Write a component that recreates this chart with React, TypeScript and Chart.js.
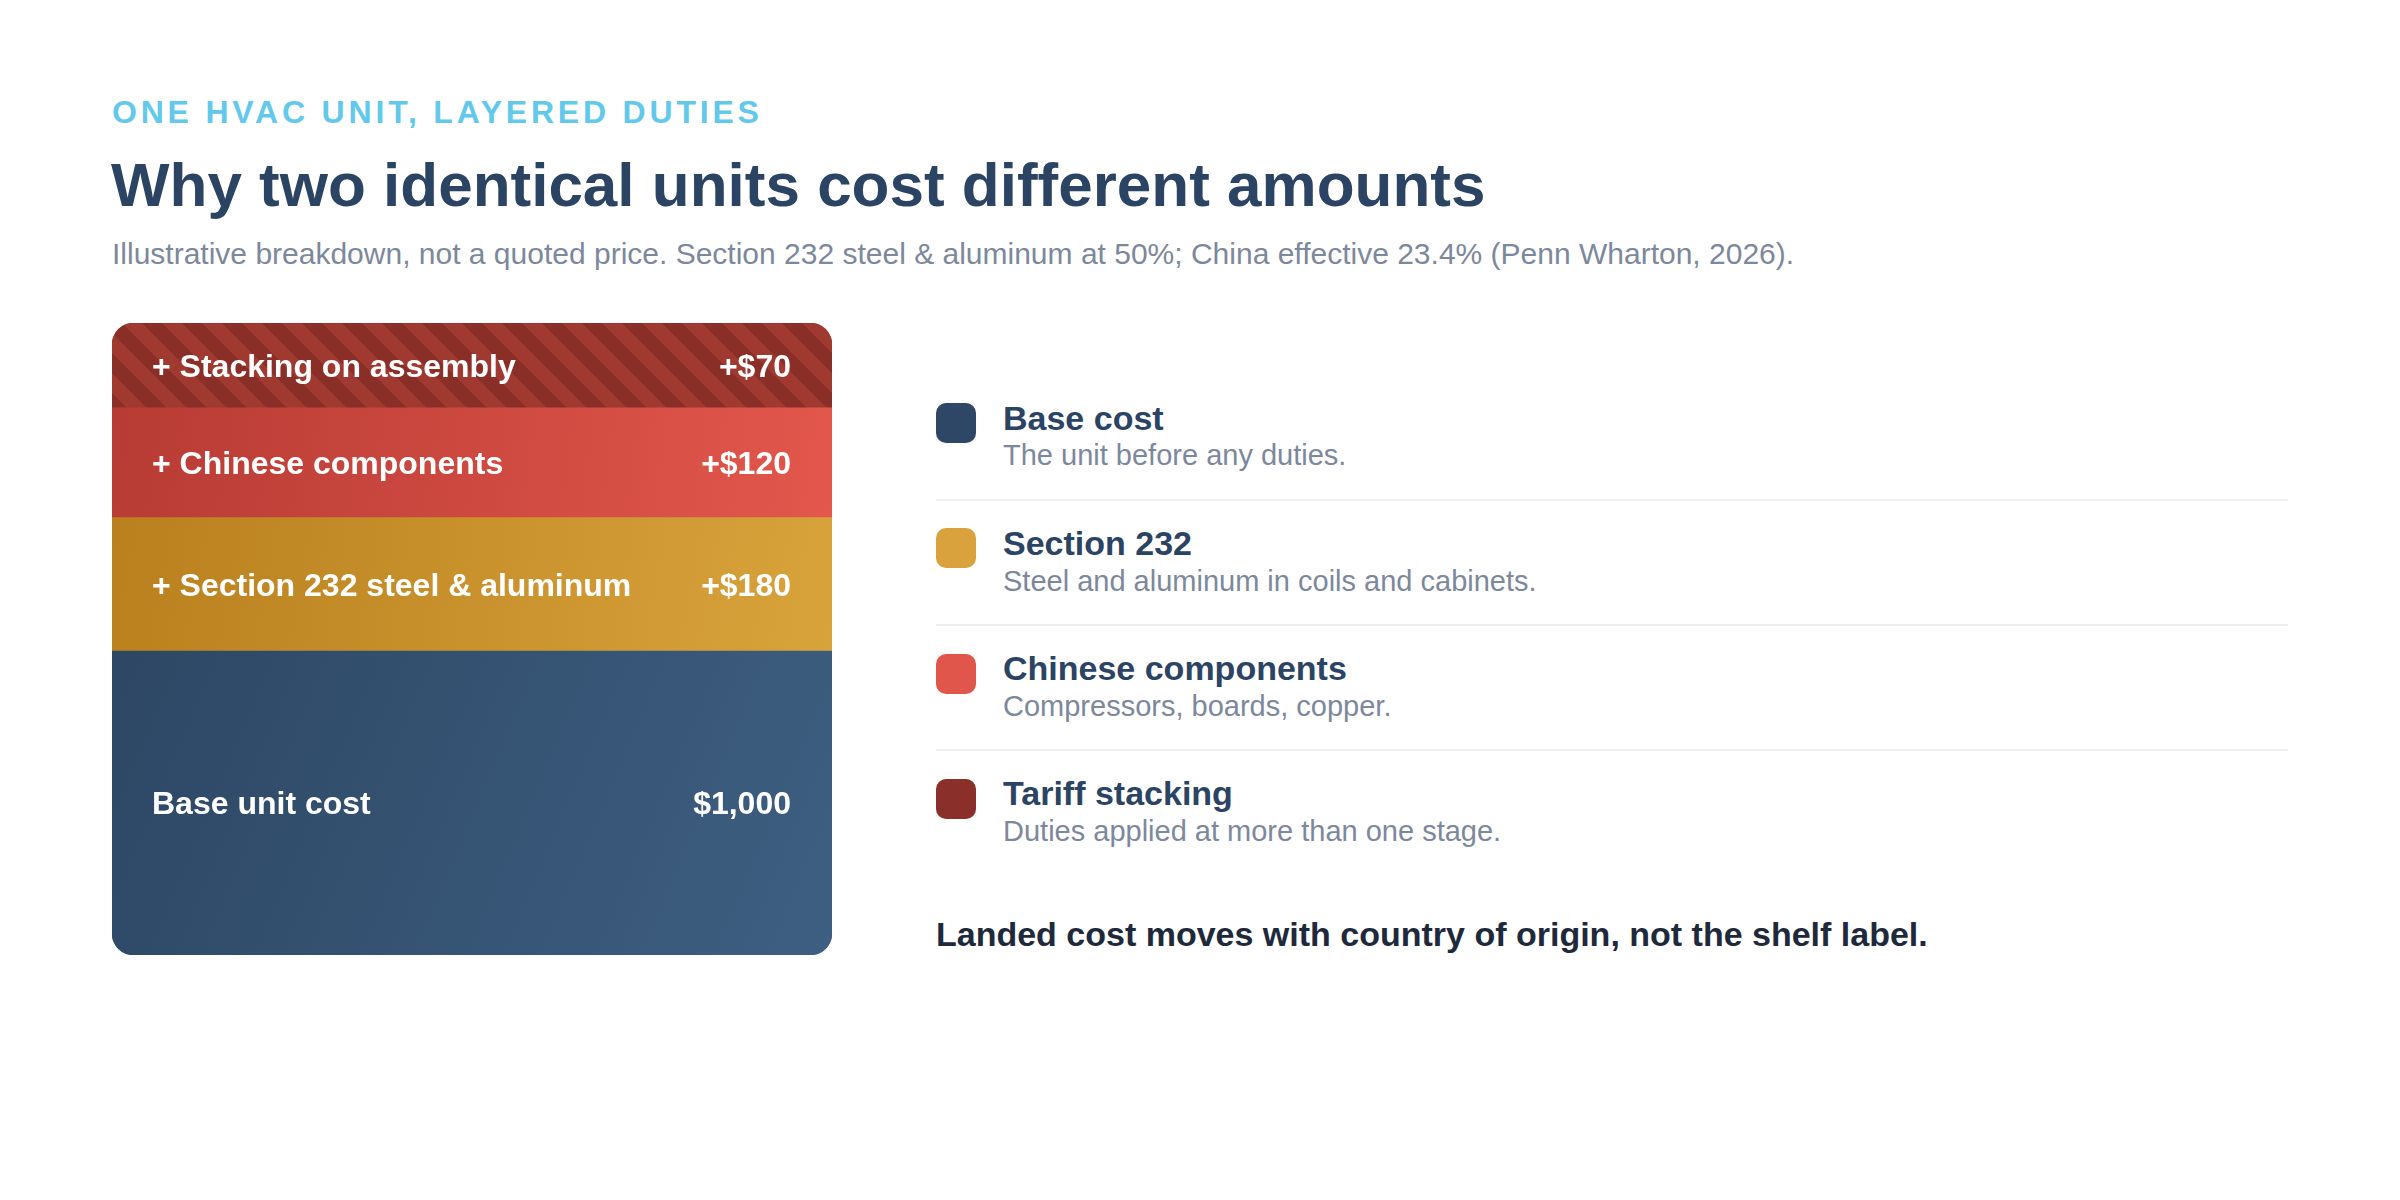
import React, { useEffect, useRef } from 'react';
import { Chart, registerables } from 'chart.js';

Chart.register(...registerables);

const FONT = "'Liberation Sans', Arial, Helvetica, sans-serif";

// ---- data (bottom of the stack first) ----
const layerNames = ['Base unit cost', '+ Section 232 steel & aluminum', '+ Chinese components', '+ Stacking on assembly'];
const layerCosts = [1000, 180, 120, 70];
const layerCostLabels = ['$1,000', '+$180', '+$120', '+$70'];

const legendTitles = ['Base cost', 'Section 232', 'Chinese components', 'Tariff stacking'];
const legendNotes = [
  'The unit before any duties.',
  'Steel and aluminum in coils and cabinets.',
  'Compressors, boards, copper.',
  'Duties applied at more than one stage.',
];

const eyebrowText = 'ONE HVAC UNIT, LAYERED DUTIES';
const titleText = 'Why two identical units cost different amounts';
const subtitleText =
  'Illustrative breakdown, not a quoted price. Section 232 steel & aluminum at 50%; China effective 23.4% (Penn Wharton, 2026).';
const footerText = 'Landed cost moves with country of origin, not the shelf label.';

// ---- scale setting: layer heights follow a power (≈ square-root) scale of each cost ----
const HEIGHT_EXPONENT = 0.48;

// ---- styles ----
const legendColors = ['#2e4766', '#d9a23c', '#e0564b', '#8a2f29'];
const layerGradients: (string[] | null)[] = [
  ['#2d4764', '#3e5f82'],
  ['#b9801d', '#d9a33c'],
  ['#b73b34', '#e3574c'],
  null,
];
const stripeLight = '#a03930';
const stripeDark = '#8a2e28';

function makeStripes(period: number): CanvasPattern | string {
  const c = document.createElement('canvas');
  c.width = period;
  c.height = period;
  const g = c.getContext('2d');
  if (!g) return stripeLight;
  g.fillStyle = stripeLight;
  g.fillRect(0, 0, period, period);
  g.strokeStyle = stripeDark;
  g.lineWidth = period / Math.SQRT2 / 2;
  g.beginPath();
  for (const k of [-2, -1, 0, 1, 2]) {
    const c0 = k * period;
    g.moveTo(c0 - period, -period);
    g.lineTo(c0 + 2 * period, 2 * period);
  }
  g.stroke();
  const pat = g.createPattern(c, 'repeat');
  return pat || stripeLight;
}

const barLabelPlugin = {
  id: 'barLabels',
  afterDatasetsDraw(chart: any) {
    const ctx = chart.ctx;
    ctx.save();
    ctx.fillStyle = '#ffffff';
    ctx.font = `700 32px ${FONT}`;
    chart.data.datasets.forEach((ds: any, i: number) => {
      const meta = chart.getDatasetMeta(i);
      const el = meta.data[0];
      if (!el) return;
      const { x, y, base, width } = el.getProps(['x', 'y', 'base', 'width'], true);
      const cy = (y + base) / 2 + 0.358 * 32;
      ctx.textBaseline = 'alphabetic';
      ctx.textAlign = 'left';
      ctx.fillText(layerNames[i], x - width / 2 + 40, cy);
      ctx.textAlign = 'right';
      ctx.fillText(layerCostLabels[i], x + width / 2 - 41, cy);
    });
    ctx.restore();
  },
};

function StackChart() {
  const ref = useRef<HTMLCanvasElement | null>(null);
  useEffect(() => {
    if (!ref.current) return;
    const heights = layerCosts.map((v) => Math.pow(v, HEIGHT_EXPONENT));
    const total = heights.reduce((a, b) => a + b, 0);
    const stripes = makeStripes(40);
    const radius = 22;
    const datasets = layerCosts.map((cost, i) => {
      const below = heights.slice(0, i).reduce((a, b) => a + b, 0);
      const above = below + heights[i];
      const isBottom = i === 0;
      const isTop = i === layerCosts.length - 1;
      return {
        label: layerNames[i],
        data: [heights[i]],
        backgroundColor: (c: any) => {
          const stops = layerGradients[i];
          if (!stops) return stripes;
          const chart = c.chart;
          const area = chart.chartArea;
          if (!area) return stops[0];
          const ys = chart.scales.y;
          const top = ys.getPixelForValue(above);
          const bot = ys.getPixelForValue(below);
          const g = chart.ctx.createLinearGradient(area.left, top, area.right, bot);
          g.addColorStop(0, stops[0]);
          g.addColorStop(1, stops[1]);
          return g;
        },
        borderWidth: 0,
        borderSkipped: false,
        borderRadius: {
          topLeft: isTop ? radius : 0,
          topRight: isTop ? radius : 0,
          bottomLeft: isBottom ? radius : 0,
          bottomRight: isBottom ? radius : 0,
        },
        barPercentage: 1,
        categoryPercentage: 1,
        stack: 'unit',
      };
    });
    const chart = new Chart(ref.current, {
      type: 'bar',
      data: { labels: ['HVAC unit'], datasets: datasets as any },
      options: {
        responsive: false,
        maintainAspectRatio: false,
        animation: false,
        layout: { padding: 0 },
        plugins: { legend: { display: false }, tooltip: { enabled: false }, title: { display: false } },
        scales: {
          x: { display: false, stacked: true, offset: true },
          y: { display: false, stacked: true, min: 0, max: total },
        },
      },
      plugins: [barLabelPlugin],
    });
    return () => chart.destroy();
  }, []);
  return (
    <canvas
      ref={ref}
      width={720}
      height={632}
      style={{ position: 'absolute', left: 112, top: 323, width: 720, height: 632 }}
    />
  );
}

function textAt(size: number, baseline: number) {
  return { position: 'absolute' as const, top: baseline - 0.8465 * size, fontSize: size, lineHeight: 1, whiteSpace: 'nowrap' as const };
}

export default function App() {
  const pitch = 125.3;
  return (
    <div
      style={{
        position: 'absolute',
        left: 0,
        top: 0,
        width: 2400,
        height: 1200,
        background: '#ffffff',
        fontFamily: FONT,
        overflow: 'hidden',
      }}
    >
      <div style={{ ...textAt(32, 122.7), left: 112, fontWeight: 700, color: '#62c8ec', letterSpacing: 3.8 }}>{eyebrowText}</div>
      <div style={{ ...textAt(62, 206.5), left: 111, fontWeight: 700, color: '#2c4464' }}>{titleText}</div>
      <div style={{ ...textAt(30, 264), left: 112, color: '#7c889c' }}>{subtitleText}</div>

      <StackChart />

      {legendTitles.map((t, i) => (
        <React.Fragment key={t}>
          <div
            style={{
              position: 'absolute',
              left: 936,
              top: 403 + i * pitch,
              width: 40,
              height: 40,
              borderRadius: 10,
              background: legendColors[i],
            }}
          />
          <div style={{ ...textAt(34, 429.3 + i * pitch), left: 1003, fontWeight: 700, color: '#2c4464' }}>{t}</div>
          <div style={{ ...textAt(29, 466 + i * pitch), left: 1003, color: '#7c889c' }}>{legendNotes[i]}</div>
          {i < legendTitles.length - 1 && (
            <div
              style={{
                position: 'absolute',
                left: 936,
                top: 498.5 + i * pitch,
                width: 1352,
                height: 2,
                background: '#efeff4',
              }}
            />
          )}
        </React.Fragment>
      ))}

      <div style={{ ...textAt(34, 946), left: 936, fontWeight: 700, color: '#1e293b' }}>{footerText}</div>
    </div>
  );
}
